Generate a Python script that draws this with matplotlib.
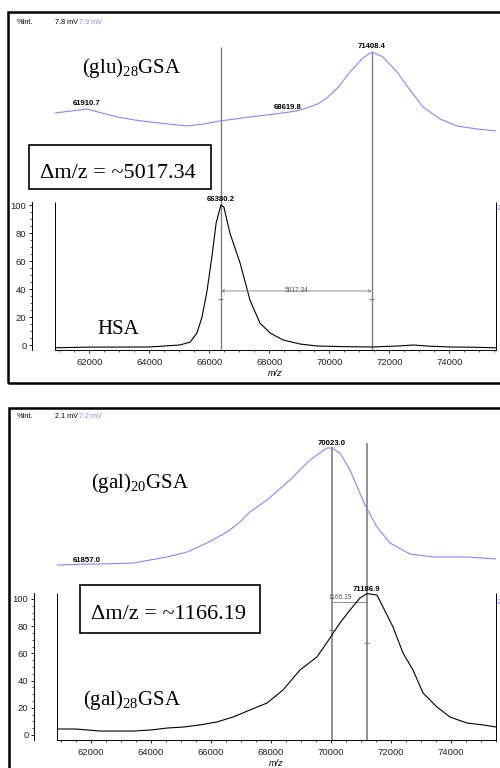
import matplotlib.pyplot as plt
from matplotlib.patches import Rectangle
from matplotlib.ticker import MultipleLocator, FixedLocator

plt.rcParams['mathtext.fontset'] = 'custom'
plt.rcParams['mathtext.rm'] = 'Liberation Serif'
plt.rcParams['mathtext.it'] = 'Liberation Serif:italic'

SERIF = ['Liberation Serif', 'DejaVu Serif']
NARROW = ['Liberation Sans Narrow', 'Liberation Sans', 'DejaVu Sans']
BLUE = '#8585ff'
GRAY = '#808080'

# ---- top panel: HSA (black) and (glu)28GSA (blue)
hsa_mz = [60850, 62000, 63000, 64000, 65000, 65350, 65580, 65750, 65920, 66080, 66220,
          66380, 66480, 66680, 67020, 67350, 67680, 68020, 68450, 69020, 69580, 70500,
          71420, 72300, 72800, 73300, 74000, 74800, 75550]
hsa_int = [-2, -1.5, -1.5, -1.4, 0, 2, 8.5, 20, 39, 63, 87,
           100, 98.5, 80, 58.5, 32, 15.7, 8.6, 3.6, 0.7, -0.7, -1.2,
           -1.4, -0.7, 0, -0.8, -1.4, -1.6, -2]

glu_mz = [60850, 61400, 61917, 62400, 62917, 63500, 64017, 64600, 65250, 65800, 66350,
          66850, 67350, 67900, 68450, 68900, 69250, 69600, 69917, 70300, 70683, 71117,
          71417, 71783, 72000, 72250, 72683, 73117, 73683, 74250, 74917, 75550]
glu_int = [37.8, 39.8, 41.8, 37.8, 33.7, 30.6, 28.6, 26.5, 24.5, 26.5, 29.6,
           31.6, 33.7, 35.7, 37.8, 39.8, 42.9, 46.9, 53.1, 64.3, 79.6, 93.9,
           100, 94.9, 87.8, 79.6, 61.2, 43.9, 31.6, 24.5, 21.4, 19.4]

# ---- bottom panel: (gal)28GSA (black) and (gal)20GSA (blue)
gal28_mz = [60867, 61500, 62300, 63000, 63400, 64000, 64533, 65100, 65633, 66200, 66733,
            67300, 67867, 68400, 68967, 69533, 69967, 70300, 70633, 70967, 71200, 71533,
            71733, 72067, 72400, 72733, 73067, 73533, 73967, 74533, 75067, 75500]
gal28_int = [4.4, 4.4, 2.9, 2.9, 2.9, 3.7, 5.1, 5.9, 7.4, 9.6, 13.2,
             18.4, 23.5, 33.1, 47.8, 57.4, 71.3, 82.4, 91.9, 100.7, 104, 102.9,
             94.1, 79.4, 60.3, 47.8, 30.9, 20.6, 13.2, 8.8, 7.4, 5.9]

gal20_mz = [60867, 61857, 62300, 63400, 64533, 65200, 65867, 66533, 66967, 67300, 67867,
            68633, 69300, 69867, 70033, 70300, 70633, 71133, 71533, 71967, 72633, 73400,
            74533, 75500]
gal20_int = [-4.5, -3.6, -3.6, -2.7, 2.7, 7.1, 15.2, 25, 33.9, 42.9, 53.6,
             71.4, 89.3, 100, 100, 95.5, 80.4, 49.1, 29.5, 15.2, 5.4, 2.7,
             2.7, 0.9]

y_ticks = [0, 20, 40, 60, 80, 100]
x_ticks = [62000, 64000, 66000, 68000, 70000, 72000, 74000]

fig = plt.figure(figsize=(5, 7.68), dpi=100)


def fx(x):
    return x / 500


def fy(y):
    return 1 - y / 768


def panel(rect, xlim, ylim, blim, spine_top, black, blue):
    ax = fig.add_axes(rect)
    ax.plot(black[0], black[1], color='black', lw=0.8, zorder=3)
    ax.set_xlim(*xlim)
    ax.set_ylim(*ylim)
    for s in ('top', 'right'):
        ax.spines[s].set_visible(False)
    ax.spines['left'].set_position(('outward', 16.6))
    ax.spines['left'].set_bounds(ylim[0], spine_top)
    ax.spines['left'].set_linewidth(0.7)
    ax.spines['bottom'].set_linewidth(0.7)
    ax.vlines(xlim, ylim[0], spine_top, color='black', lw=0.7, clip_on=False)
    ax.set_yticks(y_ticks)
    ax.yaxis.set_minor_locator(FixedLocator([v for v in range(0, 101, 5) if v % 20]))
    ax.set_xticks(x_ticks)
    ax.xaxis.set_minor_locator(MultipleLocator(500))
    ax.tick_params(which='major', length=2.5, width=0.6, pad=1.5, labelsize=6.8,
                   labelcolor='#222222')
    ax.tick_params(which='minor', length=1.5, width=0.5)
    ax.tick_params(axis='x', pad=3)
    for t in ax.get_xticklabels() + ax.get_yticklabels():
        t.set_family(NARROW)
    ax.set_xlabel('m/z', style='italic', fontsize=6.5, family=NARROW, labelpad=2)
    ax.xaxis.set_label_coords(0.5, -0.06)
    bx = ax.twinx()
    bx.plot(blue[0], blue[1], color=BLUE, lw=0.8)
    bx.set_ylim(*blim)
    bx.axis('off')
    return ax, bx


# ---------------- top panel
ax1, bx1 = panel([fx(55), fy(350), fx(441), fy(30) - fy(350)],
                 (60850, 75550), (-3.57, 225), (-204.1, 122.4), 102.1,
                 (hsa_mz, hsa_int), (glu_mz, glu_int))
ax1.vlines([66380.2, 71408.4], -3.57, [212.9, 209.3], color=GRAY, lw=1.0, zorder=2)
ax1.hlines([32.9, 32.9], [66300, 71328], [66460, 71488], color=GRAY, lw=0.8)
ax1.annotate('', xy=(71408.4, 38.6), xytext=(66380.2, 38.6),
             arrowprops=dict(arrowstyle='<->', color=GRAY, lw=0.6,
                             mutation_scale=5, shrinkA=0, shrinkB=0))
ax1.text(68917, 38.6, '5017.34', fontsize=4.8, family=NARROW, color='#555555',
         ha='center', va='center')
ax1.annotate('66380.2', (66380.2, 100), xytext=(0, 1.5), textcoords='offset points',
             ha='center', va='bottom', fontsize=5.6, weight='bold', family=NARROW)
for mz, v, lab in [(61910.7, 41.8, '61910.7'), (68619.8, 37.8, '68619.8'),
                   (71408.4, 100, '71408.4')]:
    bx1.annotate(lab, (mz, v), xytext=(0, 1.5), textcoords='offset points',
                 ha='center', va='bottom', fontsize=5.6, weight='bold', family=NARROW)

# ---------------- bottom panel
ax2, bx2 = panel([fx(57), fy(740), fx(439), fy(420) - fy(740)],
                 (60867, 75500), (-3.68, 231.6), (-160.7, 125), 104.4,
                 (gal28_mz, gal28_int), (gal20_mz, gal20_int))
ax2.vlines([70023.0, 71186.9], -3.68, [211.8, 214.7], color=GRAY, lw=1.2, zorder=2)
ax2.hlines([77.2, 67.6], [69943, 71107], [70103, 71267], color=GRAY, lw=0.8)
ax2.hlines(97.8, 70023.0, 71186.9, color=GRAY, lw=0.6)
ax2.text(70300, 98.5, '1166.19', fontsize=4.8, family=NARROW, color='#555555',
         ha='center', va='bottom')
ax2.annotate('71186.9', (71186.9, 104), xytext=(0, 0.5), textcoords='offset points',
             ha='center', va='bottom', fontsize=5.6, weight='bold', family=NARROW)
for mz, v, lab, dy in [(61857.0, -3.6, '61857.0', 0.0), (70023.0, 100, '70023.0', 1.0)]:
    bx2.annotate(lab, (mz, v), xytext=(0, dy), textcoords='offset points',
                 ha='center', va='bottom', fontsize=5.6, weight='bold', family=NARROW)

# ---------------- frames, headers, labels
fig.patches.append(Rectangle((fx(8), fy(383)), fx(520), fy(12) - fy(383), fill=False,
                             lw=1.8, ec='black', transform=fig.transFigure))
fig.patches.append(Rectangle((fx(9), -0.05), fx(520), fy(408) + 0.05, fill=False,
                             lw=1.8, ec='black', transform=fig.transFigure))

for y, a, b in [(24, '7.8 mV', '7.9 mV'), (418, '2.1 mV', '7.2 mV')]:
    fig.text(fx(17), fy(y), '%Int.', fontsize=5.2, family=NARROW)
    fig.text(fx(55), fy(y), a, fontsize=5.2, family=NARROW)
    fig.text(fx(79), fy(y), b, fontsize=5.2, family=NARROW, color=BLUE)
    fig.text(fx(497), fy(y + 186), '2', fontsize=5.2, family=NARROW, color=BLUE)

fig.text(fx(82), fy(73), r'(glu)$_{28}$GSA', fontsize=15, family=SERIF, va='baseline')
fig.text(fx(97), fy(334), 'HSA', fontsize=15, family=SERIF, va='baseline')
fig.text(fx(91), fy(488), r'(gal)$_{20}$GSA', fontsize=15, family=SERIF, va='baseline')
fig.text(fx(83), fy(705), r'(gal)$_{28}$GSA', fontsize=15, family=SERIF, va='baseline')

fig.patches.append(Rectangle((fx(29), fy(189)), fx(182), fy(145) - fy(189), fill=False,
                             lw=1.2, ec='black', transform=fig.transFigure))
fig.text(fx(40), fy(178), 'Δm/z = ~5017.34', fontsize=16, family=SERIF, va='baseline')
fig.patches.append(Rectangle((fx(80), fy(633)), fx(180), fy(585) - fy(633), fill=False,
                             lw=1.2, ec='black', transform=fig.transFigure))
fig.text(fx(91), fy(619), 'Δm/z = ~1166.19', fontsize=16, family=SERIF, va='baseline')

fig.savefig('out.png', dpi=100)
